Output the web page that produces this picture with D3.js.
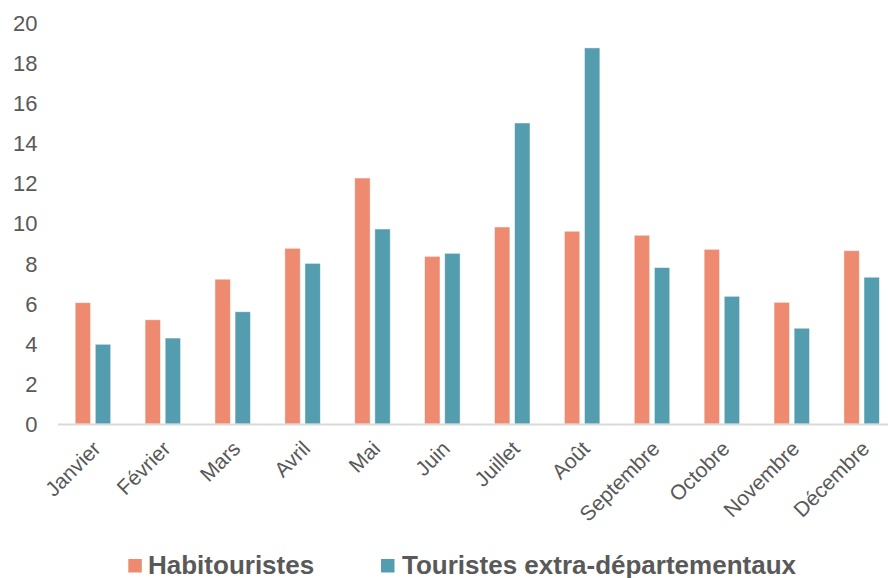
<!DOCTYPE html>
<html>
<head>
<meta charset="utf-8">
<script src="https://cdn.jsdelivr.net/npm/d3@7"></script>
<style>
  html, body { margin: 0; padding: 0; background: #ffffff; }
  svg { display: block; font-family: "Liberation Sans", Arial, sans-serif; }
</style>
</head>
<body>
<svg id="chart" width="888" height="578"></svg>
<script>
const months = ["Janvier","Février","Mars","Avril","Mai","Juin","Juillet","Août","Septembre","Octobre","Novembre","Décembre"];
const habitouristes = [6.04, 5.19, 7.21, 8.75, 12.25, 8.35, 9.81, 9.60, 9.40, 8.70, 6.06, 8.63];
const touristesExtra = [3.97, 4.28, 5.59, 8.00, 9.71, 8.50, 14.99, 18.73, 7.79, 6.36, 4.77, 7.31];
const seriesNames = ["Habitouristes", "Touristes extra-départementaux"];
const yTicks = [0, 2, 4, 6, 8, 10, 12, 14, 16, 18, 20];

const colors = ["#EE8A6F", "#539DAF"];
const textColor = "#595959";

const svg = d3.select("#chart");
const margin = { left: 58, top: 22.4, bottom: 424, right: 896.6 };

const x = d3.scaleBand().domain(months).range([margin.left, margin.right]).paddingInner(0).paddingOuter(0);
const sub = d3.scaleBand().domain(seriesNames).range([0, x.bandwidth()]).paddingInner(0.234).paddingOuter(0.855);
const y = d3.scaleLinear().domain([0, 20]).range([margin.bottom, margin.top]);

// y axis labels
const yAxis = d3.axisLeft(y).tickValues(yTicks).tickSize(0).tickPadding(0);
const yg = svg.append("g").attr("transform", "translate(37.5,0)").call(yAxis);
yg.select(".domain").remove();
yg.selectAll("text").attr("fill", textColor).style("font-size", "22px")
  .style("font-family", '"Liberation Sans", Arial, sans-serif').attr("dy", "0.35em");

// bars
const data = months.map((m, i) => ({ m, vals: [habitouristes[i], touristesExtra[i]] }));
const groups = svg.append("g").selectAll("g").data(data).join("g")
  .attr("transform", d => `translate(${x(d.m)},0)`);
groups.selectAll("rect").data(d => d.vals.map((v, j) => ({ v, s: seriesNames[j], j })))
  .join("rect")
  .attr("x", d => sub(d.s))
  .attr("width", sub.bandwidth())
  .attr("y", d => y(d.v))
  .attr("height", d => y(0) - y(d.v))
  .attr("fill", d => colors[d.j])
  .attr("stroke", "#ffffff")
  .attr("stroke-opacity", 0.6)
  .attr("stroke-width", 0.8);

// x axis line
const xAxis = d3.axisBottom(x).tickSize(0).tickPadding(0);
const xg = svg.append("g").attr("transform", `translate(0,${y(0)})`).call(xAxis);
xg.select(".domain").attr("stroke", "#D9D9D9").attr("stroke-width", 2)
  .attr("d", `M${margin.left},0.5H${margin.right}`);
xg.selectAll(".tick text")
  .attr("fill", textColor)
  .style("font-size", "21px")
  .style("font-family", '"Liberation Sans", Arial, sans-serif')
  .attr("text-anchor", "end")
  .attr("dy", "0")
  .attr("y", 0)
  .attr("transform", "translate(9,26) rotate(-45)");

// legend
const legend = svg.append("g");
const legendItems = [
  { name: seriesNames[0], color: colors[0], sx: 128.3, tx: 148 },
  { name: seriesNames[1], color: colors[1], sx: 381, tx: 402 }
];
legendItems.forEach(it => {
  legend.append("rect").attr("x", it.sx).attr("y", 559).attr("width", 13.5).attr("height", 13.5).attr("fill", it.color);
  legend.append("text").attr("x", it.tx).attr("y", 574).text(it.name)
    .attr("fill", textColor).style("font-size", "26px").style("font-weight", "bold");
});
</script>
</body>
</html>
